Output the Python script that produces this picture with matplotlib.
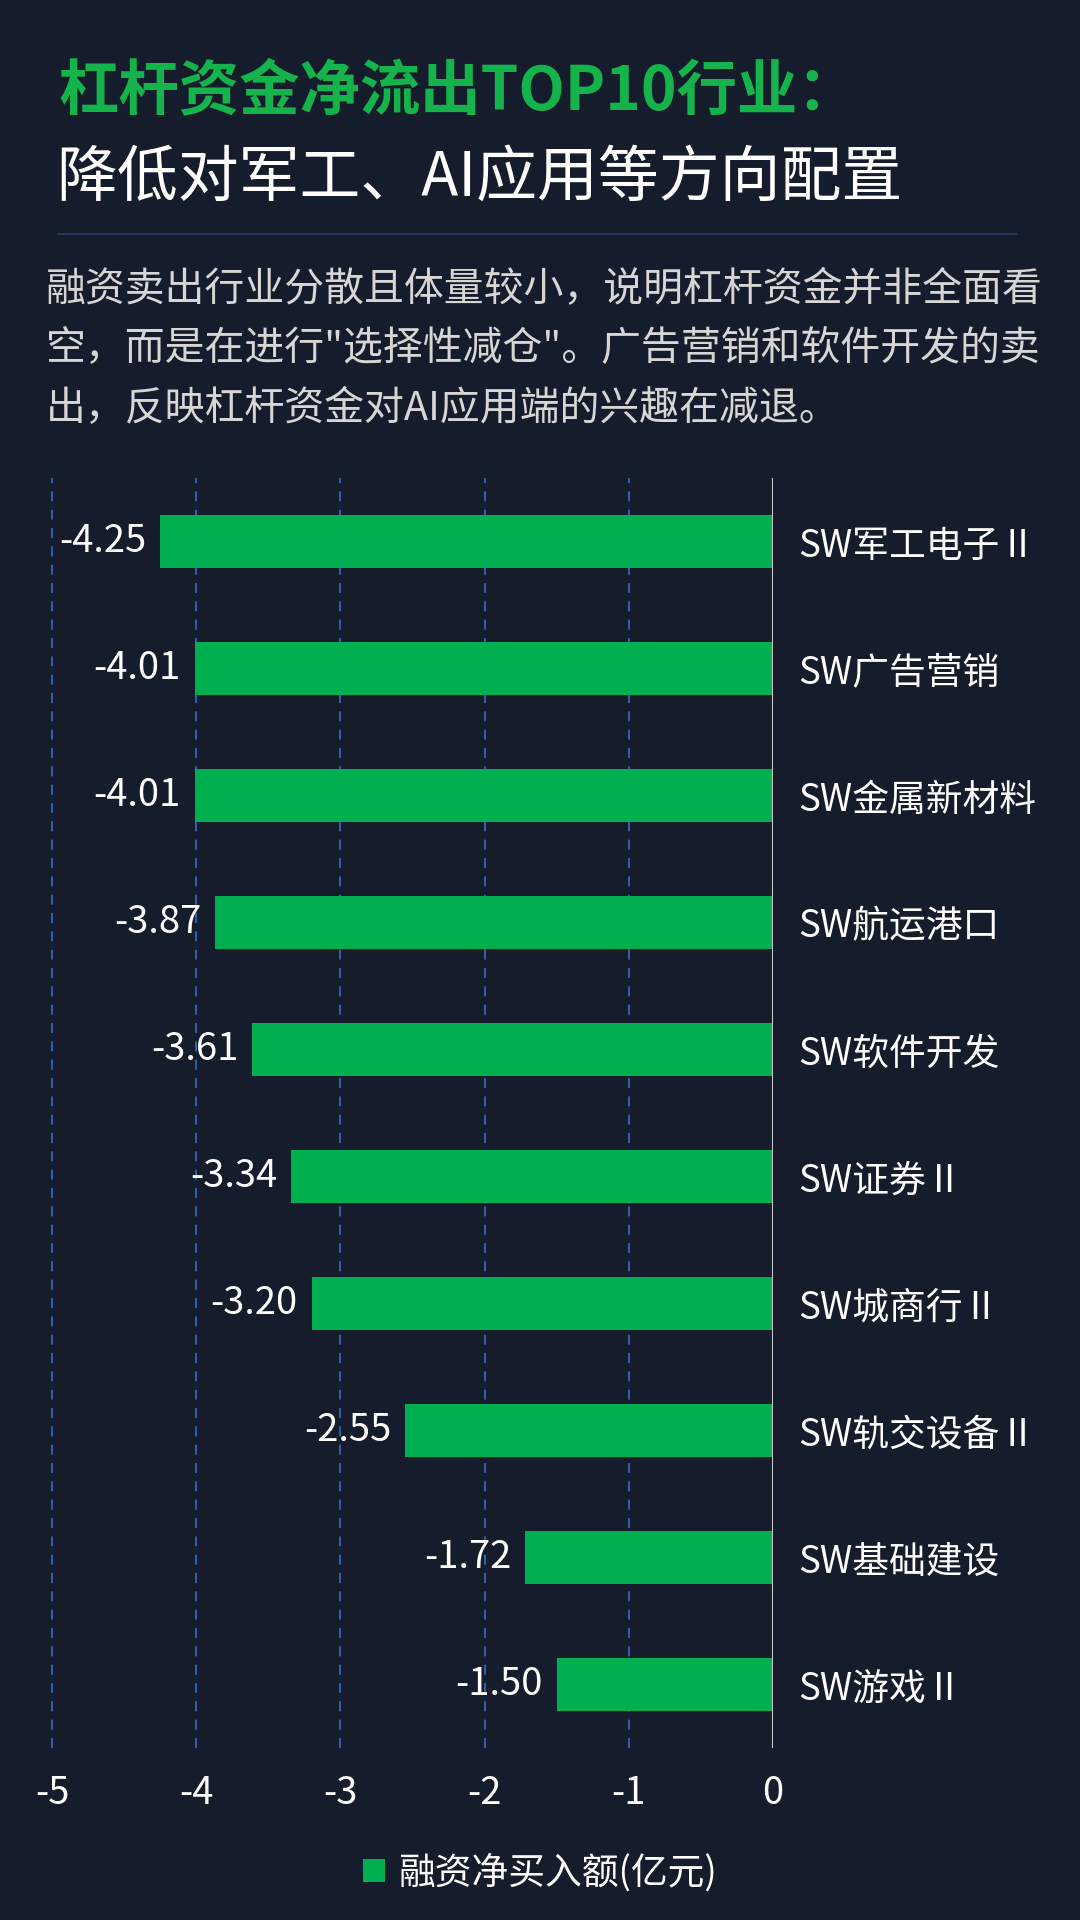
import matplotlib
matplotlib.use("Agg")
import matplotlib.pyplot as plt
from matplotlib.patches import Patch
from matplotlib.lines import Line2D

plt.rcParams['font.family'] = ['Noto Sans CJK SC', 'DejaVu Sans']

industries = ['SW军工电子Ⅱ', 'SW广告营销', 'SW金属新材料', 'SW航运港口', 'SW软件开发',
              'SW证券Ⅱ', 'SW城商行Ⅱ', 'SW轨交设备Ⅱ', 'SW基础建设', 'SW游戏Ⅱ']
net_buy = [-4.25, -4.01, -4.01, -3.87, -3.61, -3.34, -3.20, -2.55, -1.72, -1.50]
x_ticks = [-5, -4, -3, -2, -1, 0]

title_1 = '杠杆资金净流出TOP10行业：'
title_2 = '降低对军工、AI应用等方向配置'
para = ['融资卖出行业分散且体量较小，说明杠杆资金并非全面看',
        '空，而是在进行"选择性减仓"。广告营销和软件开发的卖',
        '出，反映杠杆资金对AI应用端的兴趣在减退。']
legend_label = '融资净买入额(亿元)'

BG = '#151c2b'
GREEN = '#00b050'

fig = plt.figure(figsize=(10.8, 19.2), dpi=100, facecolor=BG)

# header
fig.text(58 / 1080, 1 - 92 / 1920, title_1, color='#14b34c', fontsize=43.5,
         fontweight='bold', va='center', ha='left')
fig.text(56 / 1080, 1 - 178 / 1920, title_2, color='white', fontsize=43.8,
         va='center', ha='left')
fig.add_artist(Line2D([58 / 1080, 1016 / 1080], [1 - 234 / 1920] * 2,
                      color='#26355a', lw=1.5, transform=fig.transFigure))
for i, line in enumerate(para):
    fig.text(46 / 1080, 1 - (290 + 59.5 * i) / 1920, line, color='#d6d6d6',
             fontsize=28.7, va='center', ha='left')

# chart
ax = fig.add_axes([16 / 1080, 1 - 1748 / 1920, (773 - 16) / 1080, 1270 / 1920])
ax.set_facecolor('none')
y = list(range(len(industries)))
bars = ax.barh(y, net_buy, height=0.42, color=GREEN, zorder=3)
ax.bar_label(bars, fmt='%.2f', padding=10, color='white', fontsize=27.5)

ax.set_xlim(-5.25, 0)
ax.set_ylim(len(industries) - 0.5, -0.5)
ax.set_xticks(x_ticks)
ax.set_xticklabels([str(t) for t in x_ticks])
ax.grid(axis='x', color='#3d6cc0', linestyle=(0, (6, 5)), linewidth=1.2, zorder=1)
ax.axvline(0, color='#c9c9c9', linewidth=1.5, zorder=4)

ax.yaxis.tick_right()
ax.set_yticks(y)
ax.set_yticklabels(industries)
ax.tick_params(axis='y', length=0, pad=18, labelsize=26.5, labelcolor='white')
ax.tick_params(axis='x', length=0, pad=19, labelsize=27.5, labelcolor='white')
for s in ax.spines.values():
    s.set_visible(False)

leg = fig.legend(handles=[Patch(facecolor=GREEN, label=legend_label)],
                 loc='center', bbox_to_anchor=(0.5, 1 - 1873 / 1920),
                 frameon=False, fontsize=26.5, labelcolor='white',
                 handlelength=0.6, handleheight=0.6, handletextpad=0.35)

fig.savefig('out.png', dpi=100, facecolor=BG)
